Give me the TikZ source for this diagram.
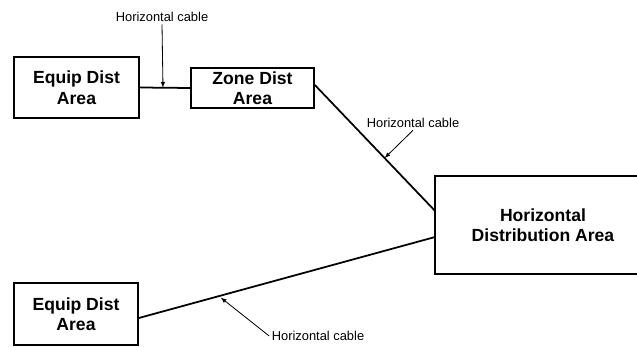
\documentclass[tikz,border=0pt]{standalone}
\usepackage{fontspec}
\setmainfont{Liberation Sans}
\usetikzlibrary{positioning, arrows}

\begin{document}
\begin{tikzpicture}[x=0.03cm, y=-0.03cm,
    area/.style={rectangle, draw, line width=1.5pt, align=center, inner sep=0pt, font=\fontsize{15}{17.5}\selectfont\bfseries},
    cable/.style={line width=1.5pt},
    note/.style={inner sep=2pt, font=\fontsize{11}{13}\selectfont},
    pointer/.style={-latex, line width=0.7pt}]
    \useasboundingbox (0,0) rectangle (637,347);
    \node (equip1) at (76.5,87.5) [area, minimum width=3.75cm, minimum height=1.83cm] {Equip Dist\\Area};
    \node (zone)   at (252.5,88)  [area, minimum width=3.69cm, minimum height=1.2cm]  {Zone Dist\\Area};
    \node (hda)    at (543,225)   [area, draw=none, minimum width=6.42cm, minimum height=2.88cm] {Horizontal\\Distribution Area};
    \node (equip2) at (76,314)    [area, minimum width=3.72cm, minimum height=1.86cm] {Equip Dist\\Area};
    \node (note1)  at (162,17)    [note] {Horizontal cable};
    \node (note2)  at (413,123)   [note] {Horizontal cable};
    \node (note3)  at (318,336)   [note] {Horizontal cable};
    % the right side of this box runs off the page
    \draw[cable] (hda.north east) -- (hda.north west) -- (hda.south west) -- (hda.south east);
    \draw[cable] (equip1.east) -- coordinate[pos=0.46] (tap1) (zone.west);
    \draw[cable] ([yshift=0.09cm]zone.east) -- coordinate[pos=0.58] (tap2) ([yshift=0.42cm]hda.west);
    \draw[cable] ([yshift=-0.12cm]equip2.east) -- coordinate[pos=0.27] (tap3) ([yshift=-0.36cm]hda.west);
    \draw[pointer] (note1.south) -- (tap1);
    \draw[pointer] (note2.south) -- (tap2);
    \draw[pointer, shorten >=2pt] (note3.west) -- (tap3);
\end{tikzpicture}
\end{document}
